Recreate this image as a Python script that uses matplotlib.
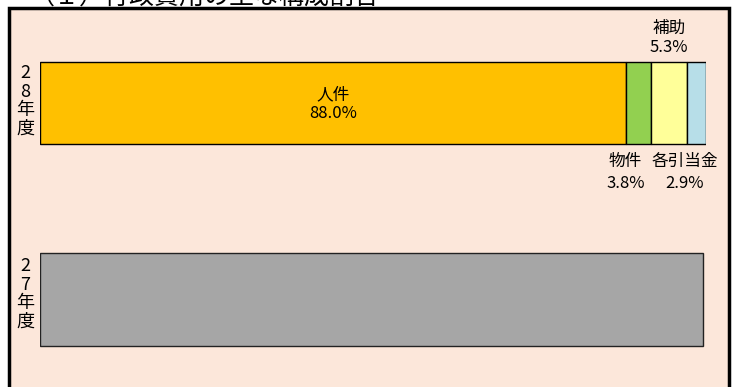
import matplotlib
matplotlib.use("Agg")

import matplotlib.pyplot as plt
from matplotlib.patches import Rectangle

plt.rcParams["font.family"] = ["Noto Sans CJK JP", "DejaVu Sans"]

# data
years = ["2\n8\n年\n度", "2\n7\n年\n度"]
items = ["人件", "物件", "補助", "各引当金"]
shares_28 = [88.0, 3.8, 5.3, 2.9]
total_27 = 99.5
title = "（１）行政費用の主な構成割合"

colors = ["#FFC000", "#92D050", "#FFFF99", "#B7DEE8"]
bg = "#FCE7DA"

W, H = 739, 387


def main():
    fig = plt.figure(figsize=(W / 100, H / 100), dpi=100)
    fig.patch.set_facecolor("white")

    # framed panel (runs off the bottom of the picture)
    box = Rectangle((8.5 / W, -0.05), (729 - 8.5) / W, 1.05 - 7.5 / H,
                    transform=fig.transFigure, facecolor=bg,
                    edgecolor="black", linewidth=2.5, zorder=-5)
    fig.patches.append(box)

    fig.text(30 / W, 1 - 10 / H, title, fontsize=18, va="bottom", ha="left")

    ax = fig.add_axes([40 / W, 0, 666 / W, 1])
    ax.set_xlim(0, 100)
    ax.set_ylim(H, 0)
    ax.axis("off")

    # 28年度 stacked bar
    y28, h28 = 103, 82
    left = 0
    for v, c in zip(shares_28, colors):
        ax.barh(y28, v, left=left, height=h28, color=c, edgecolor="black",
                linewidth=1)
        left += v

    # 27年度 bar
    y27, h27 = 299.5, 93
    ax.barh(y27, total_27, height=h27, color="#A6A6A6", edgecolor="#222222",
            linewidth=1)

    # labels
    fs = 12
    s = shares_28
    c0 = s[0] / 2
    x1 = s[0] + s[1] / 2 - 2.0
    x2 = s[0] + s[1] + s[2] / 2
    x3 = s[0] + s[1] + s[2] + s[3] / 2 - 1.75
    ax.text(c0, 95, items[0], ha="center", va="center", fontsize=fs)
    ax.text(c0, 113, "%.1f%%" % s[0], ha="center", va="center", fontsize=fs)
    ax.text(x2, 28, items[2], ha="center", va="center", fontsize=fs)
    ax.text(x2, 47, "%.1f%%" % s[2], ha="center", va="center", fontsize=fs)
    ax.text(x1, 161, items[1], ha="center", va="center", fontsize=fs)
    ax.text(x1, 183, "%.1f%%" % s[1], ha="center", va="center", fontsize=fs)
    ax.text(x3, 161, items[3], ha="center", va="center", fontsize=fs)
    ax.text(x3, 183, "%.1f%%" % s[3], ha="center", va="center", fontsize=fs)

    # year labels
    for yc, lab in zip([101, 294], years):
        fig.text(25 / W, 1 - yc / H, lab, ha="center", va="center",
                 fontsize=13, linespacing=1.05)

    fig.savefig("out.png", dpi=100, facecolor="white")


if __name__ == "__main__": main()
